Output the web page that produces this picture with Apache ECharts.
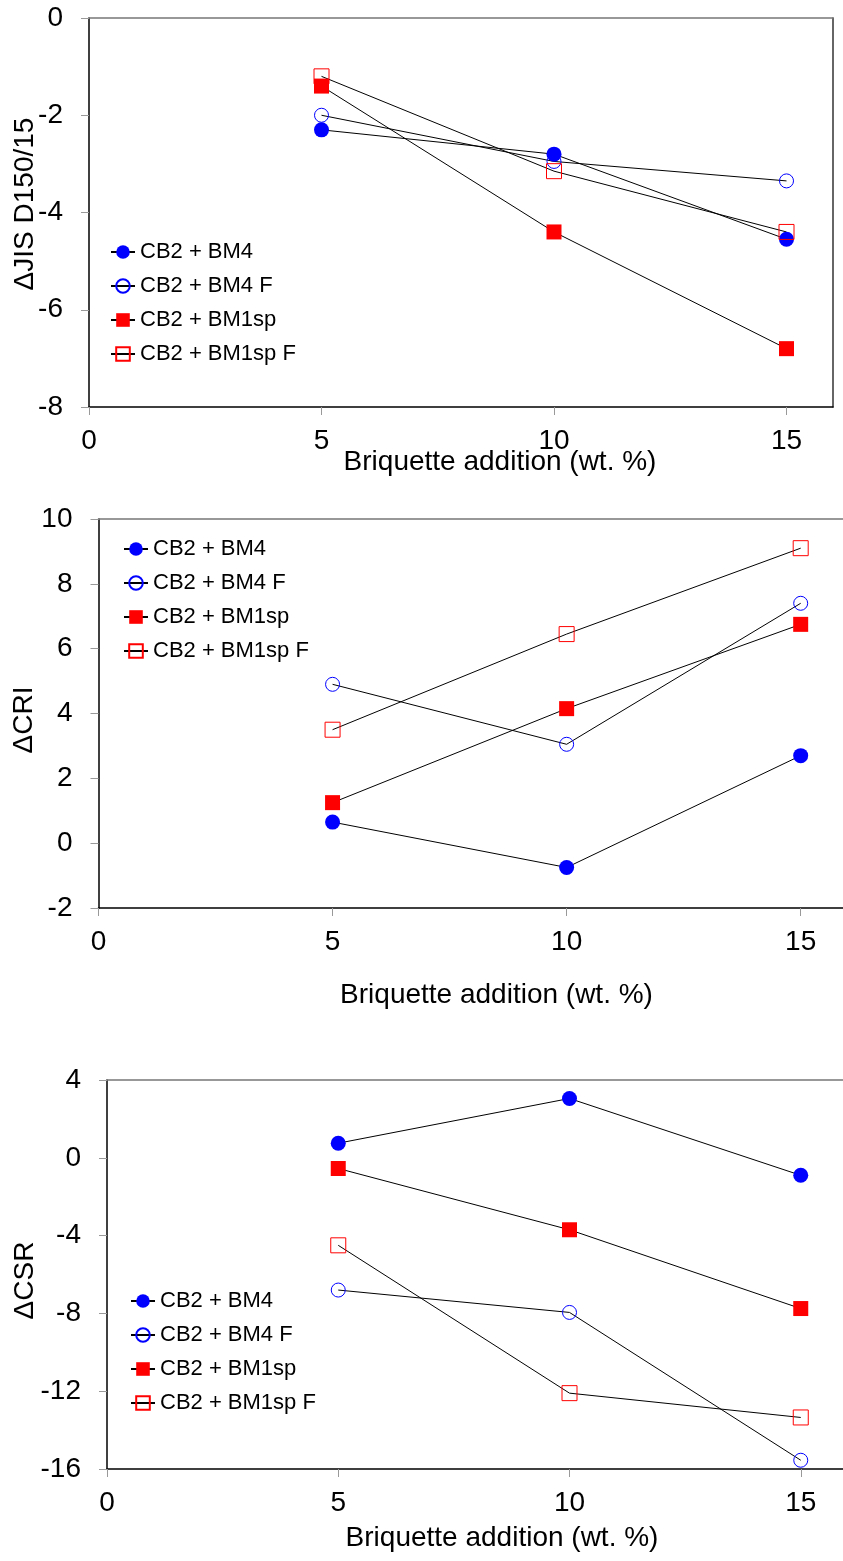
<!DOCTYPE html>
<html>
<head>
<meta charset="utf-8">
<script src="https://cdn.jsdelivr.net/npm/echarts@6/dist/echarts.min.js"></script>
<style>
    body { margin: 0; background: #fff; }
    .chart { position: absolute; left: 0; width: 843px; }
</style>
</head>
<body>
<div id="jis" class="chart" style="top:0;height:500px"></div>
<div id="cri" class="chart" style="top:500px;height:530px"></div>
<div id="csr" class="chart" style="top:1030px;height:531px"></div>
<script>
// briquette addition (wt. %)
const additions = [5, 10, 15];
const xTicks = [0, 5, 10, 15];
const seriesNames = ['CB2 + BM4', 'CB2 + BM4 F', 'CB2 + BM1sp', 'CB2 + BM1sp F'];

// ΔJIS D150/15
const jisBM4 = [-2.3, -2.8, -4.55];
const jisBM4F = [-2.0, -2.95, -3.35];
const jisBM1sp = [-1.4, -4.4, -6.8];
const jisBM1spF = [-1.2, -3.15, -4.4];

// ΔCRI
const criBM4 = [0.65, -0.75, 2.7];
const criBM4F = [4.9, 3.05, 7.4];
const criBM1sp = [1.25, 4.15, 6.75];
const criBM1spF = [3.5, 6.45, 9.1];

// ΔCSR
const csrBM4 = [0.75, 3.05, -0.9];
const csrBM4F = [-6.8, -7.95, -15.55];
const csrBM1sp = [-0.55, -3.7, -7.75];
const csrBM1spF = [-4.5, -12.1, -13.35];

const FONT = '"Liberation Sans", Arial, sans-serif';

// marker look per series: filled / open circle, filled / open square
const markers = [
    { symbol: 'circle', symbolSize: 15, itemStyle: { color: '#0000ff' } },
    { symbol: 'circle', symbolSize: 14, itemStyle: { color: 'rgba(255,255,255,0)', borderColor: '#0000ff', borderWidth: 1 } },
    { symbol: 'rect', symbolSize: 15, itemStyle: { color: '#ff0000' } },
    { symbol: 'rect', symbolSize: 15, itemStyle: { color: 'rgba(255,255,255,0)', borderColor: '#ff0000', borderWidth: 1 } },
];

const buildChart = (id, cfg) => {
    let myChart = echarts.init(document.getElementById(id));
    let series = cfg.values.map((vals, i) => ({
        name: seriesNames[i],
        type: 'line',
        xAxisIndex: 0,
        yAxisIndex: 0,
        data: additions.map((x, k) => [x, vals[k]]),
        symbol: markers[i].symbol,
        symbolSize: markers[i].symbolSize,
        itemStyle: markers[i].itemStyle,
        lineStyle: { color: '#000', width: 1 },
        emphasis: { disabled: true },
    }));
    let yAxes = [{
        type: 'value',
        min: cfg.yMin,
        max: cfg.yMax,
        interval: cfg.yInterval,
        name: cfg.yName,
        nameLocation: 'middle',
        nameGap: cfg.yNameGap,
        nameMoveOverlap: false,
        nameTextStyle: { fontFamily: FONT, fontSize: 28, color: '#000', padding: cfg.yNamePad },
        splitLine: { show: false },
        axisLine: { show: true, onZero: false, lineStyle: { color: '#000', width: 1.5 } },
        axisTick: { show: true, length: 8, lineStyle: { color: '#999' } },
        axisLabel: { fontFamily: FONT, fontSize: 28, color: '#000', margin: 26 },
    }];
    if (cfg.rightBorder) {
        yAxes.push({
            type: 'value', position: 'right', min: cfg.yMin, max: cfg.yMax,
            splitLine: { show: false },
            axisLine: { show: true, onZero: false, lineStyle: { color: '#333', width: 1.5 } },
            axisTick: { show: false },
            axisLabel: { show: false },
        });
    }
    let option = {
        animation: false,
        backgroundColor: '#fff',
        grid: Object.assign({ outerBoundsMode: 'none', containLabel: false }, cfg.grid),
        legend: {
            orient: 'vertical',
            left: cfg.legendLeft,
            top: cfg.legendTop,
            padding: 0,
            itemWidth: 24,
            itemHeight: 17,
            itemGap: 12,
            data: seriesNames,
            selectedMode: false,
            textStyle: { fontFamily: FONT, fontSize: 22, color: '#000', lineHeight: 22 },
        },
        xAxis: [{
            type: 'value',
            min: 0,
            max: 16,
            name: 'Briquette addition (wt. %)',
            nameLocation: 'middle',
            nameGap: cfg.xNameGap,
            nameMoveOverlap: false,
            nameTextStyle: { fontFamily: FONT, fontSize: 28, color: '#000', padding: [0, 0, 0, cfg.xNameShift] },
            splitLine: { show: false },
            axisLine: { show: true, onZero: false, lineStyle: { color: '#000', width: 1.5 } },
            axisTick: { show: true, length: 8, lineStyle: { color: '#999' }, customValues: xTicks },
            axisLabel: { fontFamily: FONT, fontSize: 28, color: '#000', margin: 20, customValues: xTicks },
        }, {
            type: 'value', position: 'top', min: 0, max: 16,
            splitLine: { show: false },
            axisLine: { show: true, onZero: false, lineStyle: { color: '#777', width: 1.5 } },
            axisTick: { show: false },
            axisLabel: { show: false },
        }],
        yAxis: yAxes,
        series: series,
    };
    option && myChart.setOption(option);
};

buildChart('jis', {
    grid: { left: 89, top: 18, width: 744, height: 389 },
    values: [jisBM4, jisBM4F, jisBM1sp, jisBM1spF],
    yMin: -8, yMax: 0, yInterval: 2,
    yName: 'ΔJIS D150/15', yNameGap: 50, yNamePad: [0, 0, 0, 17],
    xNameGap: 41, xNameShift: 78,
    legendLeft: 110, legendTop: 241,
    rightBorder: true,
});

buildChart('cri', {
    grid: { left: 98.5, top: 19, width: 749, height: 389 },
    values: [criBM4, criBM4F, criBM1sp, criBM1spF],
    yMin: -2, yMax: 10, yInterval: 2,
    yName: 'ΔCRI', yNameGap: 60, yNamePad: [0, 13, 0, 0],
    xNameGap: 73, xNameShift: 47,
    legendLeft: 123, legendTop: 38,
    rightBorder: false,
});

buildChart('csr', {
    grid: { left: 107, top: 50, width: 740, height: 389 },
    values: [csrBM4, csrBM4F, csrBM1sp, csrBM1spF],
    yMin: -16, yMax: 4, yInterval: 4,
    yName: 'ΔCSR', yNameGap: 68, yNamePad: [0, 12, 0, 0],
    xNameGap: 55, xNameShift: 50,
    legendLeft: 130, legendTop: 260,
    rightBorder: false,
});
</script>
</body>
</html>
